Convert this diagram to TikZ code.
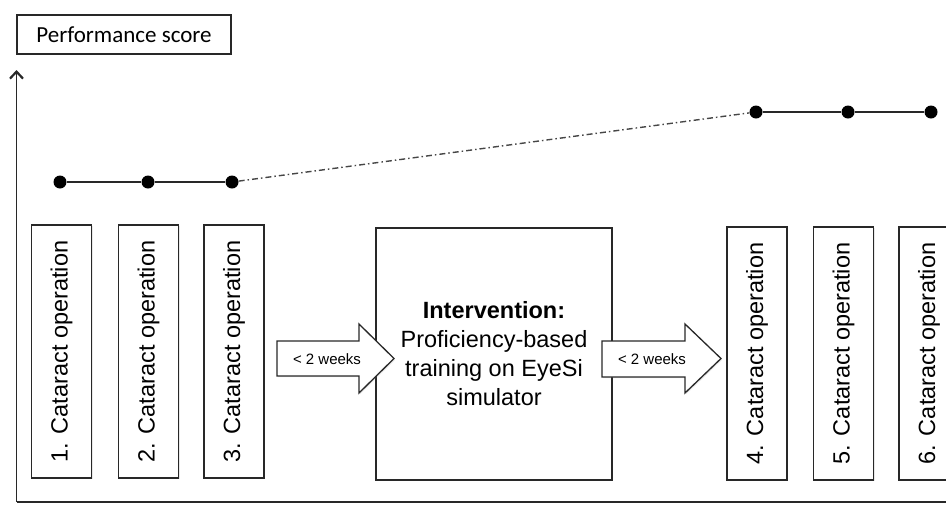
\documentclass[tikz,border=0pt]{standalone}
\usepackage{fontspec}
\setmainfont{Liberation Sans}
\newfontfamily\calibrifont{Carlito}
\newfontfamily\arialfont{Liberation Sans}
\usetikzlibrary{arrows.meta,shadows}
\definecolor{linegray}{RGB}{40,40,40}
\definecolor{dashgray}{RGB}{70,70,70}
\tikzset{
  opbox/.style={draw=linegray, line width=1.3pt, fill=white, rotate=90,
    minimum width=253pt, minimum height=60pt, inner sep=0pt,
    font=\arialfont\fontsize{23.5}{26}\selectfont,
    drop shadow={opacity=0.18, shadow xshift=1.2pt, shadow yshift=-1.2pt}},
  scoredot/.style={circle, fill=black, minimum size=13pt, inner sep=0pt},
  scoreline/.style={line width=1.5pt, linegray},
  blockarrow/.style={draw=linegray, line width=1.3pt, fill=white, line join=miter,
    drop shadow={opacity=0.18, shadow xshift=1.2pt, shadow yshift=-1.2pt}},
  weeks/.style={font=\arialfont\fontsize{15}{16}\selectfont, inner sep=0pt}
}
\begin{document}
\begin{tikzpicture}[x=1pt,y=-1pt]
\useasboundingbox (0,0) rectangle (946,504);
\clip (0,0) rectangle (946,504);

% axis label
\node[draw=linegray, line width=1.3pt, minimum width=214pt, minimum height=39pt,
  inner sep=0pt, font=\calibrifont\fontsize{23}{26}\selectfont] (label) at (124,34.5) {Performance score};

% axes
\coordinate (origin) at (16.5,502);
\coordinate (ytip) at (16.5,70);
\coordinate (xend) at (950,502);
\draw[line width=1.6pt, linegray, -{Straight Barb[length=7pt,width=13pt,line width=2.2pt]}] (origin) -- (ytip);
\draw[line width=1.6pt, linegray] (origin) -- (xend);

% operation boxes
\node[opbox] (op1) at (61.5,351.5) {1. Cataract operation};
\node[opbox] (op2) at (148.5,351.5) {2. Cataract operation};
\node[opbox] (op3) at (234,351.5) {3. Cataract operation};
\node[opbox] (op4) at (757,353.5) {4. Cataract operation};
\node[opbox] (op5) at (843.5,353.5) {5. Cataract operation};
\node[opbox] (op6) at (929,353.5) {6. Cataract operation};

% intervention box
\node[draw=linegray, line width=1.3pt, fill=white, minimum width=236pt, minimum height=252pt,
  inner sep=0pt, align=center, font=\arialfont\fontsize{23.5}{29}\selectfont,
  drop shadow={opacity=0.18, shadow xshift=1.2pt, shadow yshift=-1.2pt}]
  (interv) at (494,354) {\textbf{Intervention:}\\Proficiency-based\\training on EyeSi\\simulator};

% block arrows
\draw[blockarrow] (277,341) -- (359,341) -- (359,324) -- (394,358.5) -- (359,393) -- (359,376) -- (277,376) -- cycle;
\node[weeks] (w1) at (327,359) {< 2 weeks};
\draw[blockarrow] (602,341) -- (685,341) -- (685,324) -- (721,358.5) -- (685,393) -- (685,377) -- (602,377) -- cycle;
\node[weeks] (w2) at (652,359) {< 2 weeks};

% scores
\node[scoredot] (d1) at (60,182) {};
\node[scoredot] (d2) at (148,182) {};
\node[scoredot] (d3) at (232,182) {};
\node[scoredot] (d4) at (756,112) {};
\node[scoredot] (d5) at (848,112) {};
\node[scoredot] (d6) at (931,112) {};
\draw[scoreline] (d1) -- (d2) -- (d3);
\draw[scoreline] (d4) -- (d5) -- (d6);
\draw[dashgray, line width=1.4pt, dash pattern=on 6pt off 3pt on 1.5pt off 3pt] (d3) -- (d4);
\end{tikzpicture}
\end{document}
